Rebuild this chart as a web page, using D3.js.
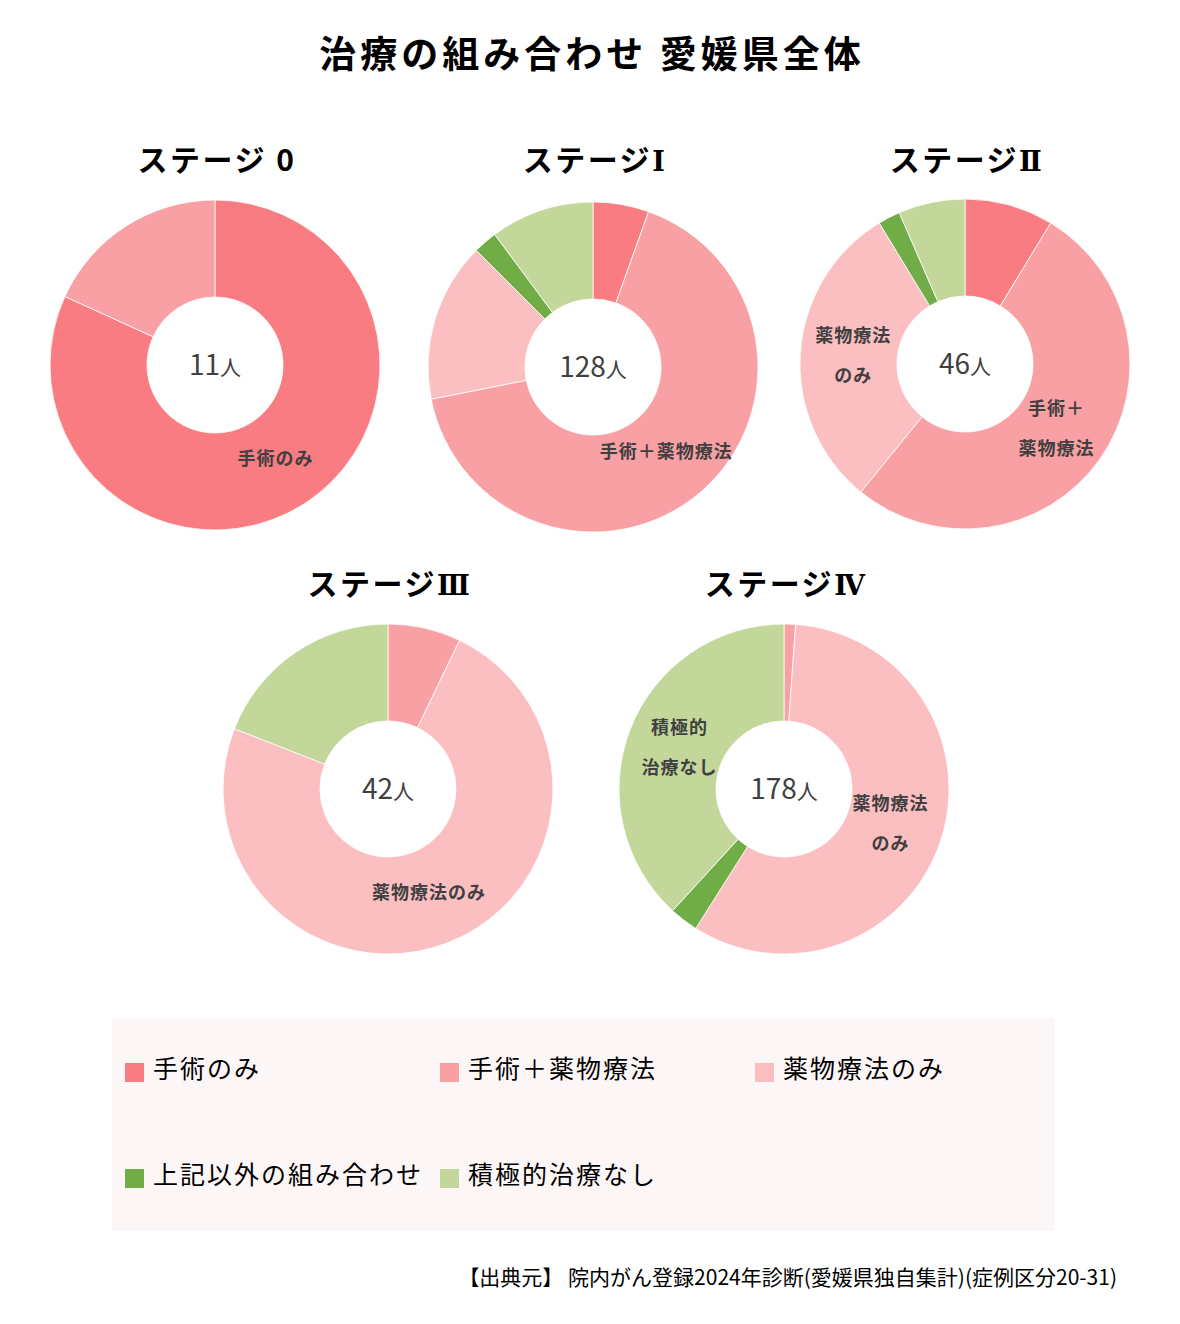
<!DOCTYPE html>
<html lang="ja">
<head>
<meta charset="UTF-8">
<script src="https://cdn.jsdelivr.net/npm/d3@7"></script>
<title>治療の組み合わせ 愛媛県全体</title>
<style>
  body { margin: 0; background: #fff; }
  text { font-family: "Noto Sans CJK JP", "Noto Sans", sans-serif; }
</style>
</head>
<body>
<script>
  // categories and colours
  const categories = ["手術のみ", "手術＋薬物療法", "薬物療法のみ", "上記以外の組み合わせ", "積極的治療なし"]
  const colors = ["#F87C81", "#F9A0A4", "#FBBFC2", "#70AD47", "#C4D79B"]

  // stage titles (prefix + numeral)
  const stagePrefix = "ステージ"
  const stageNums = [" 0", "Ⅰ", "Ⅱ", "Ⅲ", "Ⅳ"]

  // counts per stage, in category order
  const stage0 = [9, 2, 0, 0, 0]
  const stage1 = [7, 85, 20, 3, 13]
  const stage2 = [4, 24, 14, 1, 3]
  const stage3 = [0, 3, 31, 0, 8]
  const stage4 = [0, 2, 103, 5, 68]

  // slice labels drawn inside the ring ("|" = line break)
  const labels0 = ["手術のみ", "", "", "", ""]
  const labels1 = ["", "手術＋薬物療法", "", "", ""]
  const labels2 = ["", "手術＋|薬物療法", "薬物療法|のみ", "", ""]
  const labels3 = ["", "", "薬物療法のみ", "", ""]
  const labels4 = ["", "", "薬物療法|のみ", "", "積極的|治療なし"]

  const title = "治療の組み合わせ 愛媛県全体"
  const source = "【出典元】 院内がん登録2024年診断(愛媛県独自集計)(症例区分20-31)"

  const width = 1180
  const height = 1324

  const svg = d3.select("body").append("svg")
    .attr("width", width)
    .attr("height", height)

  // main title
  svg.append("text")
    .attr("x", width / 2 + 2)
    .attr("y", 68)
    .attr("text-anchor", "middle")
    .style("font-size", "37px")
    .style("font-weight", "bold")
    .style("letter-spacing", "4px")
    .text(title)

  // where each donut sits
  const cells = [
    { cx: 215, cy: 365, title: 171 },
    { cx: 593, cy: 367, title: 171 },
    { cx: 965, cy: 364, title: 171 },
    { cx: 388, cy: 789, title: 595 },
    { cx: 784, cy: 789, title: 595 }
  ]
  const values = [stage0, stage1, stage2, stage3, stage4]
  const labels = [labels0, labels1, labels2, labels3, labels4]

  const outerR = 165
  const innerR = 68

  const pie = d3.pie().sort(null).value(d => d.v)
  const arc = d3.arc().innerRadius(innerR).outerRadius(outerR)
  const labelArc = d3.arc().innerRadius(112).outerRadius(112)

  values.forEach(function (vals, i) {
    const cell = cells[i]
    const rows = vals.map((v, k) => ({ v: v, k: k, label: labels[i][k] }))
    const total = d3.sum(vals)

    // stage title, roman numerals in a serif face like the original
    const st = svg.append("text")
      .attr("x", cell.cx + 2)
      .attr("y", cell.title)
      .attr("text-anchor", "middle")
      .style("font-size", "30px")
      .style("font-weight", "bold")
      .style("letter-spacing", "2.5px")
    st.append("tspan").text(stagePrefix)
    st.append("tspan")
      .style("font-family", i == 0 ? null : "'DejaVu Serif', serif")
      .style("font-size", i == 0 ? null : "27px")
      .text(stageNums[i])

    const g = svg.append("g")
      .attr("transform", `translate(${cell.cx},${cell.cy})`)

    const arcs = pie(rows).filter(d => d.data.v > 0)

    g.selectAll("path")
      .data(arcs)
      .enter()
      .append("path")
      .attr("d", arc)
      .attr("fill", d => colors[d.data.k])
      .attr("stroke", "#fff")
      .attr("stroke-width", 0.8)

    // labels in the ring
    arcs.filter(d => d.data.label).forEach(function (d) {
      const c = labelArc.centroid(d)
      const lines = d.data.label.split("|")
      const t = g.append("text")
        .attr("text-anchor", "middle")
        .style("font-size", "18px")
        .style("font-weight", "bold")
        .style("letter-spacing", "1px")
        .style("fill", "#404040")
      lines.forEach(function (line, j) {
        t.append("tspan")
          .attr("x", c[0])
          .attr("y", c[1] + 6 + (j - (lines.length - 1) / 2) * 40)
          .text(line)
      })
    })

    // total in the hole
    const ct = g.append("text")
      .attr("text-anchor", "middle")
      .attr("y", 10)
      .style("fill", "#404040")
    ct.append("tspan").style("font-size", "28px").text(total)
    ct.append("tspan").style("font-size", "21px").text("人")
  })

  // legend
  const legend = svg.append("g")
  legend.append("rect")
    .attr("x", 112)
    .attr("y", 1018)
    .attr("width", 943)
    .attr("height", 213)
    .attr("fill", "#FDF6F6")

  const legendX = d3.scalePoint().domain([0, 1, 2]).range([125, 755])
  const legendY = d3.scalePoint().domain([0, 1]).range([1072, 1178])

  categories.forEach(function (name, k) {
    const col = k % 3
    const row = Math.floor(k / 3)
    const x = legendX(col)
    const y = legendY(row)
    legend.append("rect")
      .attr("x", x)
      .attr("y", y - 9)
      .attr("width", 19)
      .attr("height", 19)
      .attr("fill", colors[k])
    legend.append("text")
      .attr("x", x + 28)
      .attr("y", y + 6)
      .style("font-size", "25px")
      .style("letter-spacing", "2px")
      .text(name)
  })

  // source line
  svg.append("text")
    .attr("x", 1117)
    .attr("y", 1285)
    .attr("text-anchor", "end")
    .style("font-size", "21px")
    .text(source)
</script>
</body>
</html>
